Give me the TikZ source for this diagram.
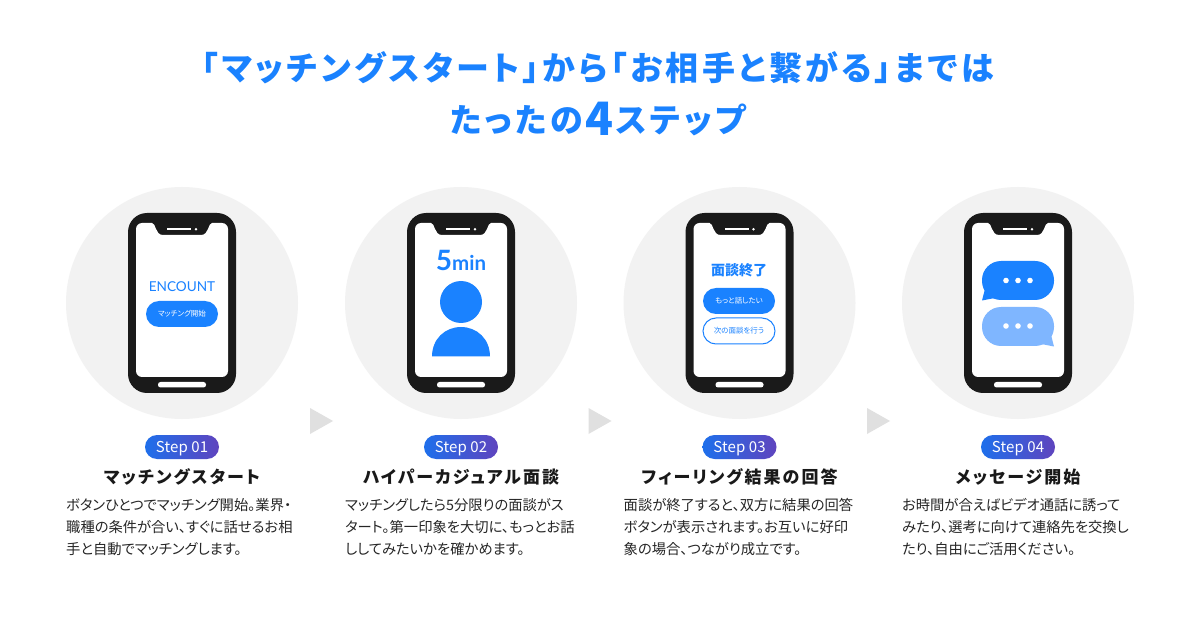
\documentclass[tikz,border=0pt]{standalone}
\usepackage{fontspec}
\usepackage{xcolor}
\usetikzlibrary{positioning, calc}
\newfontfamily\jpfont{Noto Sans CJK JP}[RawFeature={+palt}]
\newfontfamily\jptitle{Noto Sans CJK JP}[RawFeature={+palt}, LetterSpace=10]
\newfontfamily\jpname{Noto Sans CJK JP}[RawFeature={+palt}, LetterSpace=12]
\newfontfamily\jpstep{Noto Sans CJK JP}[RawFeature={+palt}, LetterSpace=1]
\newfontfamily\logofont{Lato}
\definecolor{enblue}{HTML}{1A82FF}
\definecolor{enpale}{HTML}{7FB6FF}
\definecolor{ink}{HTML}{1A1A1A}
\definecolor{disc}{HTML}{F2F2F2}
\definecolor{chevron}{HTML}{E0E0E0}
\definecolor{pillleft}{HTML}{1E6FEB}
\definecolor{pillright}{HTML}{5F44BE}
\tikzset{
    headline/.style={text=enblue, inner sep=0pt, font=\jptitle\fontsize{33}{33}\bfseries\selectfont},
    steppill/.style={minimum width=74, minimum height=24, rounded corners=12, inner sep=0pt,
        left color=pillleft, right color=pillright, text=white, text height=12, text depth=2,
        font=\jpstep\fontsize{15}{15}\selectfont},
    steptitle/.style={inner sep=0pt, text=black!90, font=\jpname\fontsize{17}{17}\bfseries\selectfont},
    stepbody/.style={anchor=west, inner sep=0pt, text=black!85, font=\jpfont\fontsize{14.3}{14.3}\selectfont},
    solidbtn/.style={minimum width=72, minimum height=26, rounded corners=13, inner sep=0pt,
        fill=enblue, text=white, font=\jpfont\fontsize{7.5}{7.5}\selectfont},
    linebtn/.style={solidbtn, fill=white, draw=enblue, line width=1, text=enblue}
}
\begin{document}
\begin{tikzpicture}[x=1pt, y=-1pt]
    \useasboundingbox (0,0) rectangle (1200,628);
    \fill[white] (0,0) rectangle (1200,628);

    % Headline
    \node[headline] (head1) at (598,68) {「マッチングスタート」から「お相手と繋がる」までは};
    \node[headline] (head2) at (598,119) {たったの\hspace{2.5pt}{\fontsize{46}{46}\selectfont\raisebox{-3pt}{4}}\hspace{2.5pt}ステップ};

    % Discs and phones
    \foreach \cx/\n in {182/1, 461/2, 739.5/3, 1018/4} {
        \fill[disc] (\cx,303) circle (116);
        \begin{scope}[shift={(\cx,0)}]
            \fill[ink, rounded corners=19] (-54,213) rectangle (54,393);
            % Screen with notch
            \fill[white] (-46,229) arc (180:270:6) -- (-30,223) .. controls (-26,223) and (-27,235) .. (-19,235)
                -- (19,235) .. controls (27,235) and (26,223) .. (30,223) -- (40,223) arc (270:360:6)
                -- (46,371) arc (0:90:6) -- (-40,377) arc (90:180:6) -- cycle;
            \fill[white] (-15,228.2) rectangle (9,230.4);
            \fill[white] (14,229.3) circle (1.4);
            \fill[white, rounded corners=2.5] (-24,382) rectangle (24,387.5);
        \end{scope}
    }

    % Grey chevrons
    \foreach \ax in {310, 588.5, 867} {
        \fill[chevron] (\ax,408) -- (\ax+23,421) -- (\ax,434) -- cycle;
    }

    % Screen 1
    \node[text=enblue, inner sep=0pt, font=\logofont\fontsize{13.6}{13.6}\selectfont] (logo) at (182,286.5) {ENCOUNT};
    \node[solidbtn] (startbtn) at (182,314) {マッチング開始};

    % Screen 2
    \node[text=enblue, inner sep=0pt, font=\logofont\bfseries\fontsize{20.5}{20.5}\selectfont] (timer) at (461,260.5) {{\fontsize{28}{28}\selectfont 5}min};
    \fill[enblue] (461,302) circle (21);
    \fill[enblue] (432,356.5) .. controls (432,339) and (445,327) .. (461,327)
        .. controls (477,327) and (490,339) .. (490,356.5) -- cycle;

    % Screen 3
    \node[text=enblue, inner sep=0pt, font=\jpfont\bfseries\fontsize{14}{14}\selectfont] (ended) at (739,270) {面談終了};
    \node[solidbtn] (morebtn) at (739,301) {もっと話したい};
    \node[linebtn] (nextbtn) at (739,331) {次の面談を行う};

    % Screen 4
    \fill[enblue, rounded corners=19] (982,261) rectangle (1054,300);
    \fill[enblue] (986,285) -- (982,300.5) -- (1000,297) -- cycle;
    \fill[enpale, rounded corners=19] (982,307) rectangle (1054,346);
    \fill[enpale] (1050,331) -- (1054,346.5) -- (1036,343) -- cycle;
    \foreach \dx in {1006, 1018, 1030} {
        \fill[white] (\dx,280.5) circle (2.8);
        \fill[white] (\dx,326) circle (2.8);
    }

    % Captions
    \foreach \cx/\n/\name/\la/\lb/\lc in {
        182/01/マッチングスタート/ボタンひとつでマッチング開始。業界・/職種の条件が合い、すぐに話せるお相/手と自動でマッチングします。,
        461/02/ハイパーカジュアル面談/マッチングしたら5分限りの面談がス/タート。第一印象を大切に、もっとお話/ししてみたいかを確かめます。,
        739.5/03/フィーリング結果の回答/面談が終了すると、双方に結果の回答/ボタンが表示されます。お互いに好印/象の場合、つながり成立です。,
        1018/04/メッセージ開始/お時間が合えばビデオ通話に誘って/みたり、選考に向けて連絡先を交換し/たり、自由にご活用ください。} {
        \node[steppill] (pill\n) at (\cx,447) {Step \n};
        \node[steptitle] (name\n) at (\cx,477) {\name};
        \node[stepbody] (la\n) at (\cx-116,505) {\la};
        \node[stepbody] (lb\n) at (\cx-116,527) {\lb};
        \node[stepbody] (lc\n) at (\cx-116,549) {\lc};
    }
\end{tikzpicture}
\end{document}
